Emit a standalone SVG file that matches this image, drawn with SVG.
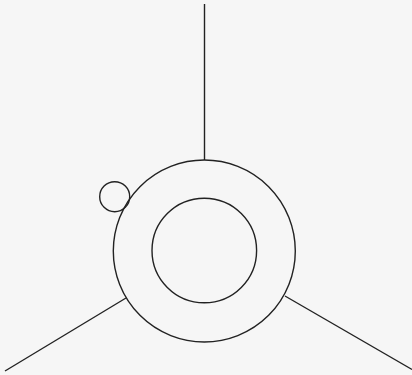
<svg xmlns="http://www.w3.org/2000/svg" width="412" height="375" viewBox="0 0 412 375">
<style>
.s{fill:none;stroke:#222;stroke-width:1.4}
</style>
<rect width="412" height="375" fill="#f6f6f6"/>
<g id="connectors">
<line class="s" x1="204.5" y1="4" x2="204.5" y2="160"/>
<line class="s" x1="126" y1="298" x2="5" y2="371"/>
<line class="s" x1="285" y1="296" x2="412" y2="369.5"/>
</g>
<g id="outer"><circle class="s" cx="204.3" cy="251" r="91"/></g>
<g id="inner"><circle class="s" cx="204.3" cy="250.5" r="52.3"/></g>
<g id="small"><circle class="s" cx="114.7" cy="196.7" r="15"/></g>
</svg>
